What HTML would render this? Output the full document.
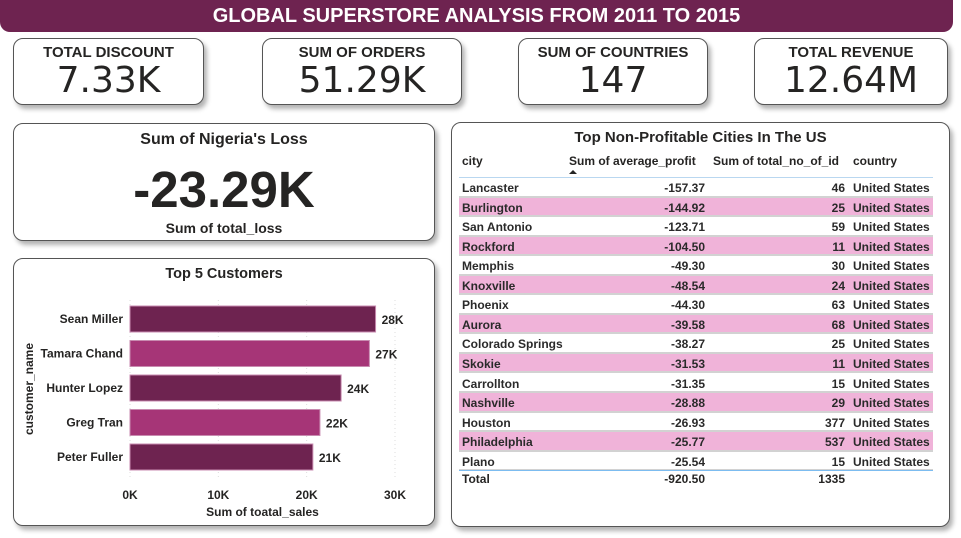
<!DOCTYPE html>
<html><head><meta charset="utf-8">
<style>
*{box-sizing:border-box;margin:0;padding:0}
body{width:961px;height:538px;background:#fff;font-family:"Liberation Sans",sans-serif;position:relative;overflow:hidden;color:#252423}
.card{position:absolute;background:#fff;border:1px solid #555;border-radius:10px;box-shadow:3px 4px 5px rgba(0,0,0,.3)}
.kt{position:absolute;left:0;right:0;top:5px;text-align:center;font-size:15px;font-weight:bold;font-family:"Liberation Sans",sans-serif}
.kv{position:absolute;left:0;right:0;top:21px;text-align:center;font-size:36px;font-family:"DejaVu Sans",sans-serif}
</style></head><body>
<div style="position:absolute;left:0;top:0;width:953px;height:32px;background:#6e2350;border-radius:0 0 10px 10px;color:#fff;font-weight:bold;font-size:20px;text-align:center;line-height:33px">GLOBAL SUPERSTORE ANALYSIS FROM 2011 TO 2015</div>

<div class="card" style="left:13px;top:38px;width:191px;height:67px"><div class="kt">TOTAL DISCOUNT</div><div class="kv">7.33K</div></div>
<div class="card" style="left:262px;top:38px;width:200px;height:67px"><div class="kt">SUM OF ORDERS</div><div class="kv">51.29K</div></div>
<div class="card" style="left:518px;top:38px;width:190px;height:67px"><div class="kt">SUM OF COUNTRIES</div><div class="kv">147</div></div>
<div class="card" style="left:754px;top:38px;width:194px;height:67px"><div class="kt">TOTAL REVENUE</div><div class="kv">12.64M</div></div>

<div class="card" style="left:13px;top:123px;width:422px;height:118px">
<div style="position:absolute;left:0;right:0;top:7px;text-align:center;font-size:16px;font-weight:bold">Sum of Nigeria's Loss</div>
<div style="position:absolute;left:0;right:0;top:36px;text-align:center;font-size:51px;font-weight:bold">-23.29K</div>
<div style="position:absolute;left:0;right:0;top:96px;text-align:center;font-size:14px;font-weight:bold">Sum of total_loss</div>
</div>

<div class="card" style="left:13px;top:258px;width:422px;height:268px">
<svg id="bar" width="422" height="268" style="position:absolute;left:-1px;top:-1px;font-family:'Liberation Sans',sans-serif"></svg>
</div>

<div class="card" style="left:451px;top:122px;width:499px;height:405px">
<div id="tbl" style="position:absolute;left:-1px;top:-1px;width:499px;height:405px"></div>
</div>

<script>
const customers=["Sean Miller","Tamara Chand","Hunter Lopez","Greg Tran","Peter Fuller"];
const sales=[27.8,27.1,23.9,21.5,20.7];
const salesLabels=["28K","27K","24K","22K","21K"];
const xTicks=[0,10,20,30];
const xTickLabels=["0K","10K","20K","30K"];

const cities=["Lancaster","Burlington","San Antonio","Rockford","Memphis","Knoxville","Phoenix","Aurora","Colorado Springs","Skokie","Carrollton","Nashville","Houston","Philadelphia","Plano"];
const avgProfit=["-157.37","-144.92","-123.71","-104.50","-49.30","-48.54","-44.30","-39.58","-38.27","-31.53","-31.35","-28.88","-26.93","-25.77","-25.54"];
const idCounts=[46,25,59,11,30,24,63,68,25,11,15,29,377,537,15];
const totals=["Total","-920.50","1335",""];

const NS="http://www.w3.org/2000/svg";
const svg=document.getElementById('bar');
function mk(tag,attrs,txt){const e=document.createElementNS(NS,tag);for(const k in attrs)e.setAttribute(k,attrs[k]);if(txt!=null)e.textContent=txt;svg.appendChild(e);return e;}
const ox=13,oy=258;
const x=v=>130-ox+(v/30)*(395-130);
const yc=i=>319-oy+i*34.5;
let t=mk('text',{x:211,y:20,'text-anchor':'middle','font-size':14.5,'font-weight':'bold',fill:'#252423'},'Top 5 Customers');


xTicks.forEach((v,i)=>{
 const g=mk('line',{x1:x(v),x2:x(v),y1:42,y2:222,stroke:'#ddd','stroke-dasharray':'1,3'});
 
 
 const l=mk('text',{x:x(v),y:241,'text-anchor':'middle','font-size':12,'font-weight':'bold',fill:'#252423'},xTickLabels[i]);
 
 
});
customers.forEach((c,i)=>{
 const r=mk('rect',{x:x(0),y:yc(i)-13,width:x(sales[i])-x(0),height:26,fill:i%2?'#a63577':'#6e2350',stroke:'#c88bb0','stroke-width':1});
 
 
 const n=mk('text',{x:x(0)-7,y:yc(i)+4,'text-anchor':'end','font-size':12,'font-weight':'bold',fill:'#252423'},c);
 
 
 const v=mk('text',{x:x(sales[i])+6,y:yc(i)+5,'font-size':12,'font-weight':'bold',fill:'#252423'},salesLabels[i]);
 
 
});
t=mk('text',{x:x(15),y:258,'text-anchor':'middle','font-size':12,'font-weight':'bold',fill:'#252423'},'Sum of toatal_sales');


t=mk('text',{x:0,y:0,'text-anchor':'middle','font-size':12,'font-weight':'bold',fill:'#252423',transform:'translate(20,131) rotate(-90)'},'customer_name');



const tb=document.getElementById('tbl');
const bx=451,by=122;
function div(css,txt){const d=document.createElement('div');d.style.cssText='position:absolute;'+css;if(txt!=null)d.textContent=txt;tb.appendChild(d);return d;}
let d=div('left:0;right:0;top:7px;text-align:center;font-size:15px;font-weight:bold','Top Non-Profitable Cities In The US');


const hdrs=[["city",462-bx],["Sum of average_profit",569-bx],["Sum of total_no_of_id",713-bx],["country",853-bx]];
hdrs.forEach(h=>{const e=div('left:'+h[1]+'px;top:32px;font-size:12px;font-weight:bold;white-space:nowrap',h[0]);
 
 });
d=div('left:'+(569-bx)+'px;top:48px;width:0;height:0;border-left:4px solid transparent;border-right:4px solid transparent;border-bottom:4px solid #252423');


div('left:'+(459-bx)+'px;top:'+(177-by)+'px;width:474px;height:1px;background:#b9d7f0');
const rowY=r=>178-by+r*19.55;
cities.forEach((c,i)=>{
 const top=rowY(i);
 const row=div('left:'+(459-bx)+'px;top:'+top+'px;width:474px;height:19.5px;background:'+(i%2?'#f0b3d9':'#fff')+';border-bottom:2px solid #d2d2d2');
 
 
 const cells=[[c,'left:'+(462-bx)+'px'],[avgProfit[i],'left:'+(600-bx)+'px;width:105px;text-align:right'],[String(idCounts[i]),'left:'+(760-bx)+'px;width:85px;text-align:right'],["United States",'left:'+(853-bx)+'px']];
 cells.forEach(cl=>{const e=div(cl[1]+';top:'+(top+3)+'px;font-size:12px;white-space:nowrap;font-weight:bold;color:#2a2a2a',cl[0]);
  
  });
});
div('left:'+(459-bx)+'px;top:'+(470-by)+'px;width:474px;height:1px;background:#7cbcf0');
[[totals[0],'left:'+(462-bx)+'px'],[totals[1],'left:'+(600-bx)+'px;width:105px;text-align:right'],[totals[2],'left:'+(760-bx)+'px;width:85px;text-align:right']].forEach(cl=>{
 const e=div(cl[1]+';top:'+(472-by)+'px;font-size:12px;font-weight:bold;white-space:nowrap',cl[0]);
 
 });
</script>
</body></html>
